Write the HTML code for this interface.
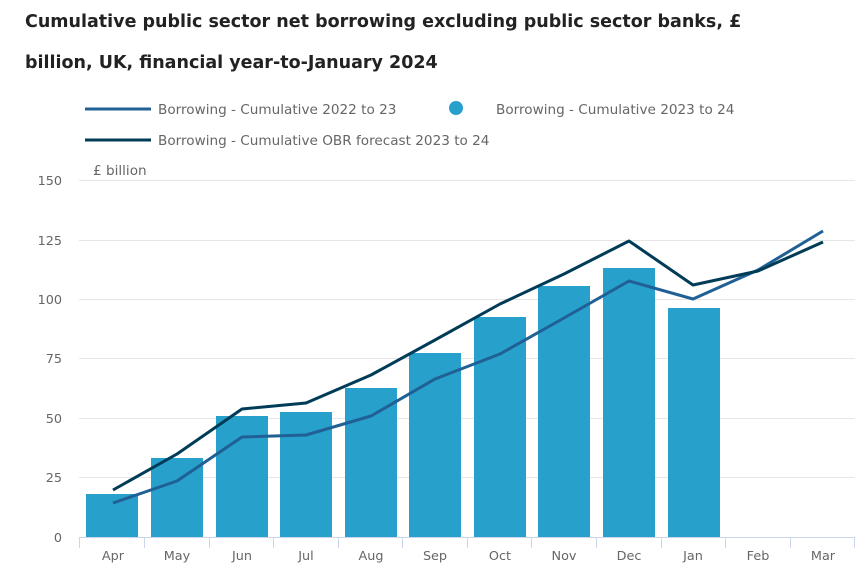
<!DOCTYPE html>
<html><head><meta charset="utf-8"><style>
body{margin:0;background:#fff;width:865px;height:573px;overflow:hidden;font-family:"DejaVu Sans",sans-serif}
</style></head><body>
<svg width="865" height="573" xmlns="http://www.w3.org/2000/svg" font-family="DejaVu Sans, Liberation Sans, sans-serif">
<text x="25" y="27" font-size="17.5" font-weight="bold" fill="#222">Cumulative public sector net borrowing excluding public sector banks, £</text>
<text x="25" y="68" font-size="17.5" font-weight="bold" fill="#222">billion, UK, financial year-to-January 2024</text>
<line x1="85" y1="109" x2="151" y2="109" stroke="#206095" stroke-width="3"/>
<text x="158" y="114" font-size="13.6" fill="#666">Borrowing - Cumulative 2022 to 23</text>
<circle cx="456" cy="108" r="7" fill="#27a0cc"/>
<text x="496" y="114" font-size="13.6" fill="#666">Borrowing - Cumulative 2023 to 24</text>
<line x1="85" y1="140" x2="151" y2="140" stroke="#003c57" stroke-width="3"/>
<text x="158" y="145" font-size="13.6" fill="#666">Borrowing - Cumulative OBR forecast 2023 to 24</text>
<text x="93" y="175" font-size="13.6" fill="#666">£ billion</text>
<g stroke="#e6e6e6" stroke-width="1">
<line x1="79" x2="855" y1="180.5" y2="180.5"/><line x1="79" x2="855" y1="240.5" y2="240.5"/>
<line x1="79" x2="855" y1="299.5" y2="299.5"/><line x1="79" x2="855" y1="358.5" y2="358.5"/>
<line x1="79" x2="855" y1="418.5" y2="418.5"/><line x1="79" x2="855" y1="477.5" y2="477.5"/>
</g>
<g font-size="12.8" fill="#666" text-anchor="end">
<text x="62" y="185">150</text><text x="62" y="245">125</text><text x="62" y="304">100</text>
<text x="62" y="363">75</text><text x="62" y="423">50</text><text x="62" y="482">25</text><text x="62" y="542">0</text>
</g>
<g fill="#27a0cc">
<rect x="86" y="494" width="52" height="43"/>
<rect x="151" y="458" width="52" height="79"/>
<rect x="216" y="416" width="52" height="121"/>
<rect x="280" y="412" width="52" height="125"/>
<rect x="345" y="388" width="52" height="149"/>
<rect x="409" y="353" width="52" height="184"/>
<rect x="474" y="317" width="52" height="220"/>
<rect x="538" y="286" width="52" height="251"/>
<rect x="603" y="268" width="52" height="269"/>
<rect x="668" y="308" width="52" height="229"/>
</g>
<g stroke="#ccd6eb" stroke-width="1">
<line x1="79" x2="855" y1="537.5" y2="537.5"/>
<line x1="79.5" x2="79.5" y1="537" y2="548"/><line x1="144.5" x2="144.5" y1="537" y2="548"/>
<line x1="209.5" x2="209.5" y1="537" y2="548"/><line x1="273.5" x2="273.5" y1="537" y2="548"/>
<line x1="338.5" x2="338.5" y1="537" y2="548"/><line x1="402.5" x2="402.5" y1="537" y2="548"/>
<line x1="467.5" x2="467.5" y1="537" y2="548"/><line x1="531.5" x2="531.5" y1="537" y2="548"/>
<line x1="596.5" x2="596.5" y1="537" y2="548"/><line x1="661.5" x2="661.5" y1="537" y2="548"/>
<line x1="725.5" x2="725.5" y1="537" y2="548"/><line x1="790.5" x2="790.5" y1="537" y2="548"/>
<line x1="854.5" x2="854.5" y1="537" y2="548"/>
</g>
<polyline fill="none" stroke="#206095" stroke-width="3" stroke-linejoin="round" points="113,503 177,481 242,437 306,435 371,416 435,379 500,354 564,318 629,281 693,299 758,270 823,231"/>
<polyline fill="none" stroke="#003c57" stroke-width="3" stroke-linejoin="round" points="113,490 177,454 242,409 306,403 371,375 435,340 500,304 564,274 629,241 693,285 758,271 823,242"/>
<g font-size="12.8" fill="#666" text-anchor="middle">
<text x="113" y="560">Apr</text><text x="177" y="560">May</text><text x="242" y="560">Jun</text>
<text x="306" y="560">Jul</text><text x="371" y="560">Aug</text><text x="435" y="560">Sep</text>
<text x="500" y="560">Oct</text><text x="564" y="560">Nov</text><text x="629" y="560">Dec</text>
<text x="693" y="560">Jan</text><text x="758" y="560">Feb</text><text x="823" y="560">Mar</text>
</g>
</svg>
</body></html>
